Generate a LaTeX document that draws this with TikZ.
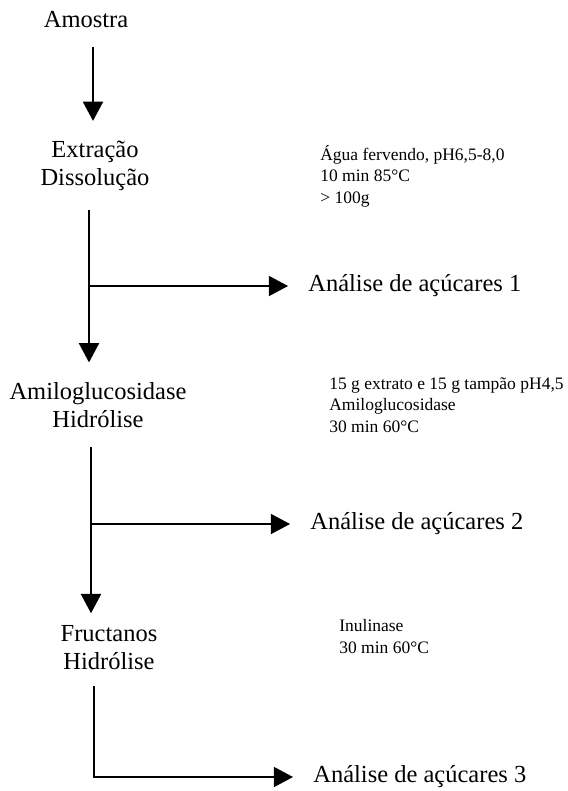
\documentclass[tikz,border=0pt]{standalone}
\usepackage{fontspec}
\setmainfont{Liberation Serif}
\usepackage{tikz}
\usetikzlibrary{
	positioning,						% Relative positioning
	arrows.meta							% Triangle arrow tips
}
\newcommand{\stagefont}{\fontsize{14}{16}\selectfont}
\newcommand{\condfont}{\fontsize{10}{12.2}\selectfont}

\begin{document}
\begin{tikzpicture}[x=0.5714pt, y=-0.5714pt]
		\tikzstyle{stage} = [align=center, font=\stagefont, inner xsep=0pt, inner ysep=11pt, anchor=base]
		\tikzstyle{cond} = [align=left, font=\condfont, inner sep=0pt, anchor=base west]
		\tikzstyle{result} = [font=\stagefont, inner sep=0pt, anchor=west]
		\tikzstyle{flow} = [-{Triangle[length=11pt, width=11.5pt]}, line width=0.9pt]
		\tikzstyle{branch} = [flow, shorten >=11.4pt]
		
		\useasboundingbox (0,0) rectangle (568,791);
		
		% Steps (anchored at the baseline of the last line)
		\node[stage] at (86,27) (amostra) {Amostra};
		\node[stage] at (95,185) (extracao) {Extração\\Dissolução};
		\node[stage] at (98,427) (amilo) {Amiloglucosidase\\Hidrólise};
		\node[stage] at (109,669) (fructanos) {Fructanos\\Hidrólise};
		
		% Conditions
		\node[cond] at (320,203) (condExtracao) {Água fervendo, pH6,5-8,0\\10 min 85°C\\> 100g};
		\node[cond] at (329,432) (condAmilo) {15 g extrato e 15 g tampão pH4,5\\Amiloglucosidase\\30 min 60°C};
		\node[cond] at (339,653) (condFructanos) {Inulinase\\30 min 60°C};
		
		% Sugar analyses
		\foreach \n/\x/\y in {1/308/286, 2/310/524, 3/313/777}{
			\node[result] at (\x, \y) (analise\n) {Análise de açúcares \n};
		}
		
		% Arrows
		%% Columns of the vertical lines
		\coordinate (stemOne) at (93,0);
		\coordinate (stemTwo) at (89,0);
		\coordinate (stemThree) at (91,0);
		\coordinate (stemFour) at (94,0);
		%% Main flow
		\draw[flow] (amostra.south -| stemOne) to (extracao.north -| stemOne);
		\draw[flow] (extracao.south -| stemTwo) to (amilo.north -| stemTwo);
		\draw[flow, shorten >=-4.5pt] (amilo.south -| stemThree) to (fructanos.north -| stemThree);
		%% Branches to the analyses
		\draw[branch] (analise1.west -| stemTwo) to (analise1.west);
		\draw[branch] (analise2.west -| stemThree) to (analise2.west);
		\draw[branch, shorten <=-1.5pt] (fructanos.south -| stemFour) |- (analise3.west);
	\end{tikzpicture}
\end{document}
